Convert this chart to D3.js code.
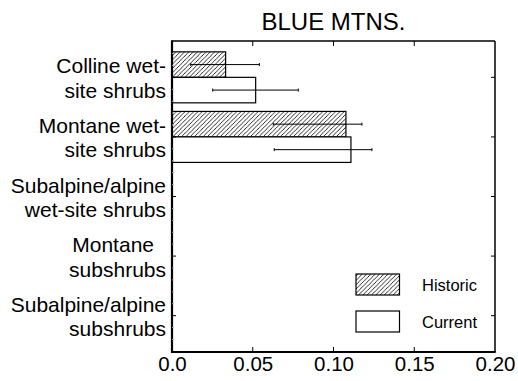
<!DOCTYPE html>
<html>
<head>
<meta charset="utf-8">
<script src="https://cdn.jsdelivr.net/npm/d3@7"></script>
<style>
  html, body { margin: 0; padding: 0; background: #fff; }
  svg { display: block; font-family: "Liberation Sans", Arial, sans-serif; }
</style>
</head>
<body>
<svg id="chart" width="518" height="381"></svg>
<script>
// ---- data ----
const title = "BLUE MTNS.";
const categories = [
  "Colline wet-\nsite shrubs",
  "Montane wet-\nsite shrubs",
  "Subalpine/alpine\nwet-site shrubs",
  "Montane\nsubshrubs",
  "Subalpine/alpine\nsubshrubs"
];
const seriesNames = ["Historic", "Current"];
const historic     = [0.0332, 0.1077, 0, 0, 0];
const historicLow  = [0.0116, 0.0627, null, null, null];
const historicHigh = [0.0541, 0.1176, null, null, null];
const current      = [0.0518, 0.1108, 0, 0, 0];
const currentLow   = [0.0252, 0.0633, null, null, null];
const currentHigh  = [0.0782, 0.1238, null, null, null];
const xTicks = [0.0, 0.05, 0.10, 0.15, 0.20];
const xTickLabels = ["0.0", "0.05", "0.10", "0.15", "0.20"];

// ---- layout ----
const svg = d3.select("#chart");
const L = 172, R = 495, T = 41, B = 352;
const x = d3.scaleLinear().domain([0, 0.2]).range([L, R]);
const y = d3.scalePoint().domain(categories).range([T, B]).padding(0.61);
const barH = 25.5;

// hatch pattern
const defs = svg.append("defs");
const pat = defs.append("pattern").attr("id", "hatch")
  .attr("patternUnits", "userSpaceOnUse").attr("width", 4.3).attr("height", 4.3);
pat.append("rect").attr("width", 4.3).attr("height", 4.3).attr("fill", "#fff");
pat.append("path").attr("d", "M-1,1.075 L1.075,-1 M0,4.3 L4.3,0 M3.225,5.3 L5.3,3.225")
  .attr("stroke", "#000").attr("stroke-width", 0.8);

// bars
const series = [
  {name: "Historic", vals: historic, lo: historicLow, hi: historicHigh, off: -barH, fill: "url(#hatch)"},
  {name: "Current",  vals: current,  lo: currentLow,  hi: currentHigh,  off: 0,     fill: "#fff"}
];
series.forEach(s => {
  const data = categories.map((c, i) => ({c, v: s.vals[i], lo: s.lo[i], hi: s.hi[i]})).filter(d => d.v > 0);
  svg.append("g").selectAll("rect").data(data).join("rect")
    .attr("x", x(0)).attr("y", d => y(d.c) + s.off)
    .attr("width", d => x(d.v) - x(0)).attr("height", barH)
    .attr("fill", s.fill).attr("stroke", "#000").attr("stroke-width", 1.2);
  const eg = svg.append("g").attr("stroke", "#000").attr("stroke-width", 1);
  data.filter(d => d.lo != null).forEach(d => {
    const cy = y(d.c) + s.off + barH / 2;
    eg.append("line").attr("x1", x(d.lo)).attr("x2", x(d.hi)).attr("y1", cy).attr("y2", cy);
    eg.append("line").attr("x1", x(d.lo)).attr("x2", x(d.lo)).attr("y1", cy - 1.5).attr("y2", cy + 1.5);
    eg.append("line").attr("x1", x(d.hi)).attr("x2", x(d.hi)).attr("y1", cy - 1.5).attr("y2", cy + 1.5);
  });
});

// frame
svg.append("line").attr("x1", L).attr("x2", R).attr("y1", T).attr("y2", T).attr("stroke", "#000").attr("stroke-width", 1.5);
svg.append("line").attr("x1", L).attr("x2", R + 0.75).attr("y1", B).attr("y2", B).attr("stroke", "#000").attr("stroke-width", 1.8);
svg.append("line").attr("x1", R).attr("x2", R).attr("y1", T).attr("y2", B).attr("stroke", "#000").attr("stroke-width", 1.5);
svg.append("line").attr("x1", L).attr("x2", L).attr("y1", T - 0.75).attr("y2", B + 0.9).attr("stroke", "#000").attr("stroke-width", 2.2);

// x axis (bottom) via d3 axis
const xAxis = svg.append("g").attr("transform", `translate(0,${B})`)
  .call(d3.axisBottom(x).tickValues(xTicks).tickFormat((d, i) => xTickLabels[i]).tickSize(0).tickPadding(4));
xAxis.select(".domain").remove();
xAxis.selectAll("text").attr("font-size", 20.5).attr("fill", "#000")
  .attr("font-family", "Liberation Sans, Arial, sans-serif");
// inward ticks top & bottom
const inner = xTicks.slice(1, -1);
svg.append("g").selectAll("line").data(inner).join("line")
  .attr("x1", d => x(d)).attr("x2", d => x(d)).attr("y1", T).attr("y2", T + 5)
  .attr("stroke", "#000").attr("stroke-width", 1);
svg.append("g").selectAll("line").data(inner).join("line")
  .attr("x1", d => x(d)).attr("x2", d => x(d)).attr("y1", B).attr("y2", B - 5)
  .attr("stroke", "#000").attr("stroke-width", 1);

// y ticks: left inward, right inward
svg.append("g").selectAll("line").data(categories).join("line")
  .attr("x1", L).attr("x2", L + 4).attr("y1", d => y(d)).attr("y2", d => y(d))
  .attr("stroke", "#000").attr("stroke-width", 1);
svg.append("g").selectAll("line").data(categories).join("line")
  .attr("x1", R).attr("x2", R - 4).attr("y1", d => y(d)).attr("y2", d => y(d))
  .attr("stroke", "#000").attr("stroke-width", 1);
// minor ticks on left
const step = y.step();
const minor = [];
categories.forEach(c => { for (let k = -2; k <= 2; k++) if (k !== 0) minor.push(y(c) + k * step / 5); });
svg.append("g").selectAll("line").data(minor.filter(v => v > T + 2 && v < B - 2)).join("line")
  .attr("x1", L).attr("x2", L + 2).attr("y1", d => d).attr("y2", d => d)
  .attr("stroke", "#aaa").attr("stroke-width", 1);

// category labels
const lab = svg.append("g").attr("font-size", 21).attr("text-anchor", "end").attr("fill", "#000");
categories.forEach(c => {
  const lines = c.split("\n");
  const t = lab.append("text").attr("x", 166).attr("y", y(c) - 4);
  lines.forEach((ln, i) => {
    t.append("tspan").attr("x", ln === "Montane" ? 154 : 166).attr("dy", i === 0 ? 0 : 24.5).text(ln);
  });
});

// title
svg.append("text").attr("x", (L + R) / 2).attr("y", 30).attr("text-anchor", "middle")
  .attr("font-size", 24).attr("fill", "#000").text(title);

// legend
const leg = svg.append("g");
const legY = [274, 311];
seriesNames.forEach((n, i) => {
  leg.append("rect").attr("x", 356).attr("y", legY[i]).attr("width", 43.5).attr("height", 21)
    .attr("fill", series[i].fill).attr("stroke", "#000").attr("stroke-width", 1.2);
  leg.append("text").attr("x", 422).attr("y", legY[i] + 17).attr("font-size", 16.5)
    .attr("fill", "#000").text(n);
});
</script>
</body>
</html>
